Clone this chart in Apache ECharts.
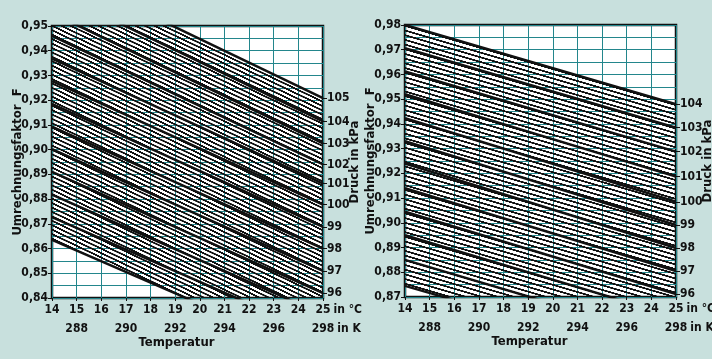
<!DOCTYPE html>
<html>
<head>
<meta charset="utf-8">
<script src="https://cdn.jsdelivr.net/npm/echarts@6/dist/echarts.min.js"></script>
<style>
html, body { margin: 0; padding: 0; background: #c8e0dd; }
#chart { width: 712px; height: 359px; }
</style>
</head>
<body>
<div id="chart"></div>
<script>
// Temperatur in °C und K
const tempC = [14, 15, 16, 17, 18, 19, 20, 21, 22, 23, 24, 25];
const tempK = ['', '288', '', '290', '', '292', '', '294', '', '296', '', '298'];

// linkes Diagramm: Druck in kPa, Faktor F bei 14 °C und bei 25 °C
const leftPressure = [93, 94, 95, 96, 97, 98, 99, 100, 101, 102, 103, 104, 105];
const leftF14 = [0.8635, 0.8727, 0.8818, 0.8910, 0.9002, 0.9093, 0.9185, 0.9277, 0.9368, 0.9460, 0.9552, 0.9643, 0.9735];
const leftF25 = [0.8160, 0.8247, 0.8333, 0.8420, 0.8510, 0.8600, 0.8688, 0.8778, 0.8863, 0.8940, 0.9025, 0.9114, 0.9208];

// rechtes Diagramm
const rightPressure = [93, 94, 95, 96, 97, 98, 99, 100, 101, 102, 103, 104];
const rightF14 = [0.8745, 0.8850, 0.8950, 0.9045, 0.9140, 0.9240, 0.9330, 0.9423, 0.9520, 0.9612, 0.9706, 0.9800];
const rightF25 = [0.8430, 0.8525, 0.8620, 0.8712, 0.8805, 0.8898, 0.8991, 0.9085, 0.9187, 0.9288, 0.9385, 0.9480];

const FONT = '"DejaVu Sans Condensed", sans-serif';
const FSIZE = 12;
const INK = '#111';
const GRID_COLOR = '#23868c';

const ctx = document.createElement('canvas').getContext('2d');
ctx.font = 'bold ' + FSIZE + 'px ' + FONT;
const w25 = ctx.measureText('25').width;
const w298 = ctx.measureText('298').width;

// Schraffur als Muster (waagrechte Streifen, wird gedreht)
function stripes(period, ink, angle) {
    const c = document.createElement('canvas');
    c.width = 16;
    c.height = period;
    const g = c.getContext('2d');
    g.fillStyle = INK;
    g.fillRect(0, 0, 16, ink);
    return { image: c, repeat: 'repeat', rotation: angle, scaleX: 0.25, scaleY: 0.25 };
}

function fmtF(v) {
    return v.toFixed(2).replace('.', ',');
}

function txt(extra) {
    return Object.assign({ fontFamily: FONT, fontWeight: 'bold', fontSize: FSIZE, color: INK }, extra || {});
}

function buildPanel(idx, pressure, f14, f25, yMin, yMax, grid, hatch, gapP) {
    const gi = idx;
    const xi = idx * 2;
    const yi = idx * 2;
    const last = pressure.length - 1;
    const x0 = tempC[0];
    const x1 = tempC[tempC.length - 1];

    // Druckmarken rechts: nur was im Bereich liegt
    const kpaTicks = [];
    const kpaLabels = {};
    pressure.forEach((p, i) => {
        if (f25[i] >= yMin - 1e-9 && f25[i] <= yMax + 1e-9) {
            kpaTicks.push(f25[i]);
            kpaLabels[f25[i].toFixed(4)] = String(p);
        }
    });

    const xAxis = {
        gridIndex: gi,
        type: 'value',
        position: 'bottom',
        min: x0,
        max: x1,
        interval: 1,
        name: 'Temperatur',
        nameLocation: 'middle',
        nameGap: 38,
        nameMoveOverlap: false,
        nameTextStyle: txt({ fontSize: 13, padding: [0, 22, 0, 0] }),
        axisLine: { show: false },
        axisTick: { show: true, length: 3, lineStyle: { color: INK } },
        splitLine: { show: true, lineStyle: { color: GRID_COLOR, width: 1 } },
        axisLabel: txt({
            margin: 2,
            lineHeight: 19,
            showMinLabel: true,
            showMaxLabel: true,
            formatter: v => {
                const i = tempC.indexOf(v);
                if (i < 0) return '';
                const k = tempK[i];
                return k ? v + '\n' + k : String(v);
            }
        })
    };

    // Einheiten hinter der letzten Marke: "in °C" / "in K"
    const xAxisUnit = {
        gridIndex: gi,
        type: 'value',
        position: 'bottom',
        min: x0,
        max: x1,
        interval: 1,
        axisLine: { show: false },
        axisTick: { show: false },
        splitLine: { show: false },
        axisLabel: txt({
            margin: 2,
            lineHeight: 19,
            align: 'left',
            showMinLabel: false,
            showMaxLabel: true,
            formatter: v => v === x1 ? '{a| }in °C\n{b| }in K' : '',
            rich: {
                a: { width: w25 / 2 + 3, lineHeight: 19 },
                b: { width: w298 / 2 + 3, lineHeight: 19 }
            }
        })
    };

    const yAxisF = {
        gridIndex: gi,
        type: 'value',
        min: yMin,
        max: yMax,
        interval: 0.01,
        name: 'Umrechnungsfaktor  F',
        nameLocation: 'middle',
        nameGap: 28,
        nameMoveOverlap: false,
        nameTextStyle: txt({ fontSize: 13 }),
        axisLine: { show: false },
        axisTick: { show: true, length: 4, lineStyle: { color: INK } },
        splitLine: { show: true, lineStyle: { color: GRID_COLOR, width: 1 } },
        minorTick: { show: false, splitNumber: 2 },
        minorSplitLine: { show: true, lineStyle: { color: GRID_COLOR, width: 1 } },
        axisLabel: txt({ margin: 4, formatter: fmtF })
    };

    const yAxisP = {
        gridIndex: gi,
        type: 'value',
        position: 'right',
        min: yMin,
        max: yMax,
        name: 'Druck in kPa',
        nameLocation: 'middle',
        nameRotate: 90,
        nameGap: gapP,
        nameMoveOverlap: false,
        nameTextStyle: txt({ fontSize: 13 }),
        axisLine: { show: false },
        splitLine: { show: false },
        axisTick: { show: true, length: 4, customValues: kpaTicks, lineStyle: { color: INK } },
        axisLabel: txt({
            margin: 4,
            customValues: kpaTicks,
            formatter: v => kpaLabels[v.toFixed(4)] || ''
        })
    };

    const series = [];
    // schraffiertes Band zwischen unterster und oberster Drucklinie
    series.push({
        type: 'custom',
        xAxisIndex: xi,
        yAxisIndex: yi,
        silent: true,
        data: [[x0, f14[0]]],
        renderItem: (params, api) => {
            const cs = params.coordSys;
            const pts = [
                api.coord([x0, f14[0]]),
                api.coord([x1, f25[0]]),
                api.coord([x1, f25[last]]),
                api.coord([x0, f14[last]])
            ];
            return {
                type: 'polygon',
                shape: { points: pts },
                style: { fill: hatch, stroke: null },
                clipPath: { type: 'rect', shape: { x: cs.x, y: cs.y, width: cs.width, height: cs.height } }
            };
        },
        z: 2
    });
    // dicke Linien je volles kPa
    pressure.forEach((p, i) => {
        series.push({
            name: p + ' kPa',
            type: 'line',
            xAxisIndex: xi,
            yAxisIndex: yi,
            silent: true,
            symbol: 'none',
            lineStyle: { color: INK, width: 2.5 },
            data: [[x0, f14[i]], [x1, f25[i]]],
            z: 3
        });
    });

    return { grid, xAxis: [xAxis, xAxisUnit], yAxis: [yAxisF, yAxisP], series };
}

const left = buildPanel(0, leftPressure, leftF14, leftF25, 0.84, 0.95,
    { left: 52, top: 26, width: 271, height: 272 },
    stripes(16, 7, 0.445), 25);
const right = buildPanel(1, rightPressure, rightF14, rightF25, 0.87, 0.98,
    { left: 405, top: 25, width: 271, height: 272 },
    stripes(18, 7, 0.285), 25);

[left.grid, right.grid].forEach(g => {
    g.show = true;
    g.outerBoundsMode = 'none';
    g.containLabel = false;
    g.backgroundColor = '#ffffff';
    g.borderColor = INK;
    g.borderWidth = 2.5;
});

const chart = echarts.init(document.getElementById('chart'));
chart.setOption({
    backgroundColor: '#c8e0dd',
    animation: false,
    grid: [left.grid, right.grid],
    xAxis: left.xAxis.concat(right.xAxis),
    yAxis: left.yAxis.concat(right.yAxis),
    series: left.series.concat(right.series)
});
</script>
</body>
</html>
